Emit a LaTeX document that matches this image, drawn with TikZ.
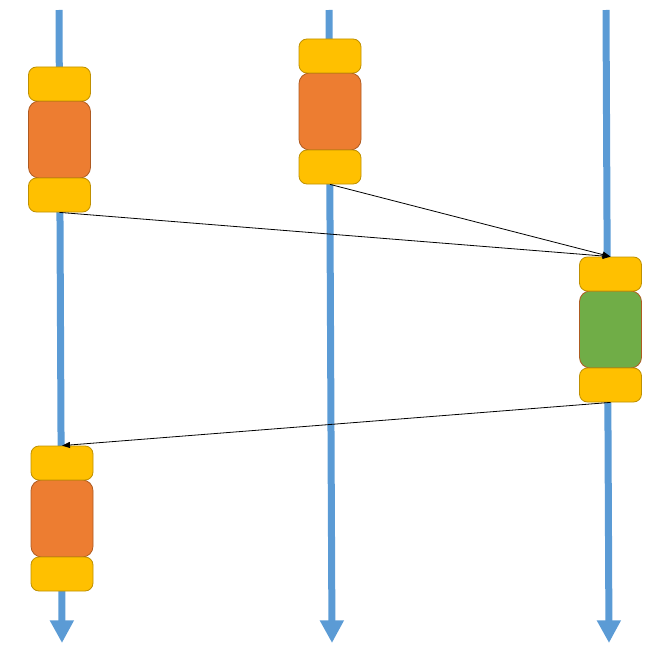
\documentclass[tikz,border=0pt]{standalone}
\usetikzlibrary{arrows.meta}
\definecolor{lifeblue}{HTML}{5B9BD5}
\definecolor{ybox}{HTML}{FFC000}
\definecolor{yborder}{HTML}{BF9000}
\definecolor{obox}{HTML}{ED7D31}
\definecolor{oborder}{HTML}{AE5A21}
\definecolor{gbox}{HTML}{70AD47}
\tikzset{
  lifeline/.style={lifeblue, line width=5.25pt, -{Triangle[length=17pt,width=17pt]}},
  capbox/.style={draw=yborder, fill=ybox, line width=0.6pt, rounded corners=6pt, minimum width=46.5pt, minimum height=25.5pt, inner sep=0pt},
  workbox/.style={draw=oborder, fill=obox, line width=0.6pt, rounded corners=8pt, minimum width=46.5pt, minimum height=57.75pt, inner sep=0pt},
  greenbox/.style={workbox, fill=gbox},
  msg/.style={black, line width=0.6pt, -{Triangle[length=6pt,width=4.5pt]}}
}
\begin{document}
\begin{tikzpicture}[x=0.75pt, y=-0.75pt]
\useasboundingbox (0,0) rectangle (664,660);
% lifelines
\coordinate (lt) at (59,10);  \coordinate (lb) at (62,643);
\coordinate (mt) at (329,10); \coordinate (mb) at (332,643);
\coordinate (rt) at (606,10); \coordinate (rb) at (609,643);
\draw[lifeline] (lt) -- (lb);
\draw[lifeline] (mt) -- (mb);
\draw[lifeline] (rt) -- (rb);
% left group 1
\node[workbox] (l1w) at (59.5,139.5) {};
\node[capbox] (l1a) at (59.5,84) {};
\node[capbox] (l1c) at (59.5,195) {};
% middle group
\node[workbox] (m1w) at (330,111.5) {};
\node[capbox] (m1a) at (330,56) {};
\node[capbox] (m1c) at (330,167) {};
% right group
\node[greenbox] (r1w) at (610.5,329.5) {};
\node[capbox] (r1a) at (610.5,274) {};
\node[capbox] (r1c) at (610.5,385) {};
% left group 2
\node[workbox] (l2w) at (62,518.5) {};
\node[capbox] (l2a) at (62,463) {};
\node[capbox] (l2c) at (62,574) {};
% messages
\draw[msg] (l1c.south) -- (r1a.north);
\draw[msg] (m1c.south) -- (r1a.north);
\draw[msg] (r1c.south) -- (l2a.north);
\end{tikzpicture}
\end{document}
